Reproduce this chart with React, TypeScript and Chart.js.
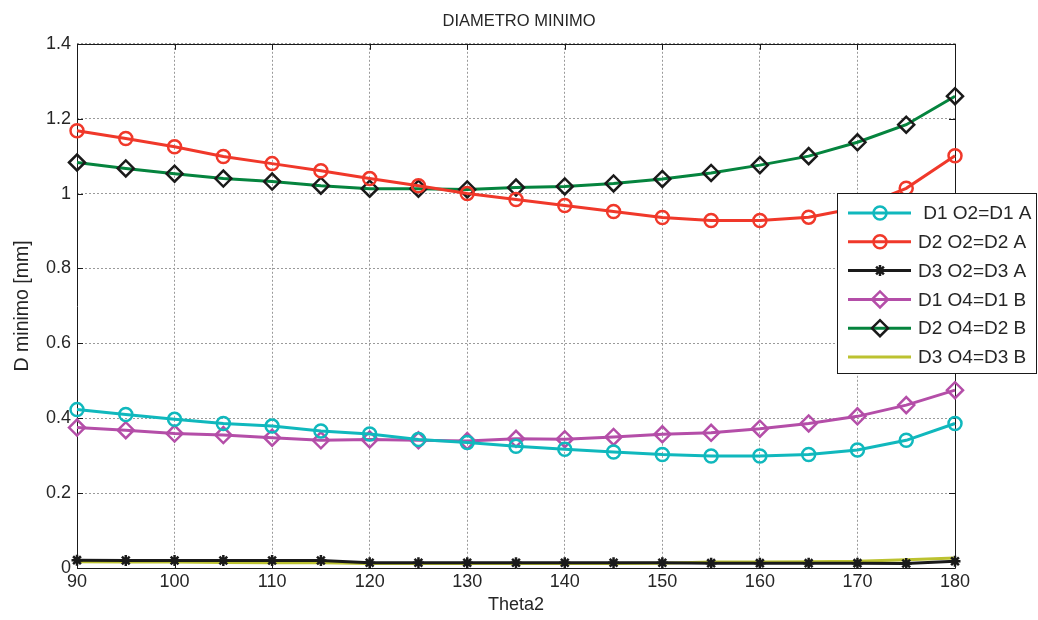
import React, { useEffect, useRef } from "react";
import { Chart, registerables } from "chart.js";
import { drawPoint } from "chart.js/helpers";

Chart.register(...registerables);

const THETA2 = [90, 95, 100, 105, 110, 115, 120, 125, 130, 135, 140, 145, 150, 155, 160, 165, 170, 175, 180];

const D1_A = [0.423, 0.41, 0.397, 0.386, 0.379, 0.366, 0.358, 0.343, 0.335, 0.325, 0.317, 0.31, 0.303, 0.299, 0.299, 0.303, 0.315, 0.341, 0.386];
const D2_A = [1.168, 1.147, 1.125, 1.099, 1.08, 1.061, 1.04, 1.021, 1.0, 0.984, 0.968, 0.952, 0.936, 0.928, 0.928, 0.937, 0.962, 1.014, 1.101];
const D3_A = [0.021, 0.02, 0.02, 0.02, 0.02, 0.02, 0.014, 0.014, 0.014, 0.014, 0.014, 0.014, 0.014, 0.013, 0.013, 0.013, 0.013, 0.012, 0.018];
const D1_B = [0.375, 0.368, 0.359, 0.355, 0.348, 0.341, 0.343, 0.341, 0.339, 0.345, 0.344, 0.35, 0.357, 0.361, 0.372, 0.386, 0.405, 0.435, 0.475];
const D2_B = [1.083, 1.067, 1.053, 1.04, 1.032, 1.021, 1.013, 1.013, 1.011, 1.016, 1.019, 1.027, 1.039, 1.055, 1.076, 1.1, 1.137, 1.184, 1.26];
const D3_B = [0.017, 0.016, 0.016, 0.015, 0.014, 0.014, 0.012, 0.012, 0.012, 0.012, 0.012, 0.012, 0.013, 0.016, 0.016, 0.017, 0.018, 0.022, 0.027];

const LABELS = [" D1 O2=D1 A", "D2 O2=D2 A", "D3 O2=D3 A", "D1 O4=D1 B", "D2 O4=D2 B", "D3 O4=D3 B"];
const X_TICKS = [90, 100, 110, 120, 130, 140, 150, 160, 170, 180];
const Y_TICKS = [0, 0.2, 0.4, 0.6, 0.8, 1, 1.2, 1.4];

const TITLE = "DIAMETRO MINIMO";
const X_TITLE = "Theta2";
const Y_TITLE = "D minimo [mm]";

const FONT = "'Liberation Sans', Arial, Helvetica, sans-serif";
const TEXT = "#262626";

const CYAN = "#10b8bd";
const RED = "#f0382a";
const BLACK = "#1a1a1a";
const MAGENTA = "#b44ea8";
const GREEN = "#05843e";
const OLIVE = "#bcc230";

function pts(vals: number[]) {
  return THETA2.map((x, i) => ({ x, y: vals[i] }));
}

const SERIES = [
  { data: D1_A, color: CYAN, marker: "circle", mColor: CYAN, r: 6.5 },
  { data: D2_A, color: RED, marker: "circle", mColor: RED, r: 6.5 },
  { data: D3_A, color: BLACK, marker: "star", mColor: BLACK, r: 5.5 },
  { data: D1_B, color: MAGENTA, marker: "rectRot", mColor: MAGENTA, r: 8 },
  { data: D2_B, color: GREEN, marker: "rectRot", mColor: BLACK, r: 8 },
  { data: D3_B, color: OLIVE, marker: false as any, mColor: OLIVE, r: 0 },
];

const framePlugin = {
  id: "frame",
  beforeDatasetsDraw(chart: any) {
    const { ctx, chartArea: a, scales } = chart;
    ctx.save();
    ctx.strokeStyle = BLACK;
    ctx.lineWidth = 1;
    ctx.beginPath();
    ctx.rect(Math.round(a.left) + 0.5, Math.round(a.top) + 0.5, Math.round(a.right - a.left), Math.round(a.bottom - a.top));
    ctx.stroke();
    const t = 6;
    ctx.beginPath();
    X_TICKS.forEach((v) => {
      const x = Math.round(scales.x.getPixelForValue(v)) + 0.5;
      ctx.moveTo(x, a.bottom);
      ctx.lineTo(x, a.bottom - t);
      ctx.moveTo(x, a.top);
      ctx.lineTo(x, a.top + t);
    });
    Y_TICKS.forEach((v) => {
      const y = Math.round(scales.y.getPixelForValue(v)) + 0.5;
      ctx.moveTo(a.left, y);
      ctx.lineTo(a.left + t, y);
      ctx.moveTo(a.right, y);
      ctx.lineTo(a.right - t, y);
    });
    ctx.stroke();
    ctx.restore();
  },
};

const legendPlugin = {
  id: "matLegend",
  afterDraw(chart: any) {
    const { ctx } = chart;
    const bx = 837, by = 193, bw = 199, bh = 180;
    ctx.save();
    ctx.fillStyle = "#ffffff";
    ctx.fillRect(bx, by, bw, bh);
    ctx.strokeStyle = BLACK;
    ctx.lineWidth = 1;
    ctx.strokeRect(bx + 0.5, by + 0.5, bw, bh);
    const rowH = 28.8;
    SERIES.forEach((s, i) => {
      const y = by + 20 + i * rowH;
      ctx.strokeStyle = s.color;
      ctx.lineWidth = 3;
      ctx.beginPath();
      ctx.moveTo(848, y);
      ctx.lineTo(911, y);
      ctx.stroke();
      if (s.marker) {
        ctx.strokeStyle = s.mColor;
        ctx.fillStyle = "rgba(0,0,0,0)";
        ctx.lineWidth = 2.5;
        drawPoint(ctx, { pointStyle: s.marker, radius: s.r, rotation: 0, borderWidth: 2.5 } as any, 880, y);
      }
      ctx.fillStyle = TEXT;
      ctx.font = `19px ${FONT}`;
      ctx.textBaseline = "middle";
      ctx.textAlign = "left";
      ctx.fillText(LABELS[i], 918, y + 1);
    });
    ctx.restore();
  },
};

export default function App() {
  const ref = useRef<HTMLCanvasElement | null>(null);

  useEffect(() => {
    document.body.style.margin = "0";
    const canvas = ref.current!;
    const chart = new Chart(canvas, {
      type: "line",
      data: {
        datasets: SERIES.map((s, i) => ({
          label: LABELS[i],
          data: pts(s.data),
          borderColor: s.color,
          backgroundColor: s.color,
          borderWidth: 3,
          pointStyle: s.marker,
          pointRadius: s.marker ? s.r : 0,
          pointBorderColor: s.mColor,
          pointBackgroundColor: "rgba(0,0,0,0)",
          pointBorderWidth: 2.5,
          tension: 0,
          clip: false as any,
          yAxisID: "y",
        })),
      },
      options: {
        animation: false,
        responsive: false,
        devicePixelRatio: 1,
        layout: { padding: 0 },
        plugins: {
          legend: { display: false },
          tooltip: { enabled: false },
          title: {
            display: true,
            text: TITLE,
            color: TEXT,
            font: { family: FONT, size: 16.5, weight: "normal" },
            padding: { top: 12, bottom: 12 },
          },
        },
        scales: {
          x: {
            type: "linear",
            min: 90,
            max: 180,
            afterBuildTicks: (s: any) => {
              s.ticks = X_TICKS.map((v) => ({ value: v }));
            },
            afterFit: (s: any) => {
              s.height = 52;
            },
            ticks: {
              color: TEXT,
              font: { family: FONT, size: 18 },
              padding: 3,
              maxRotation: 0,
              autoSkip: false,
              callback: (v: any) => String(v),
            },
            grid: { color: "#9a9a9a", lineWidth: 1, drawTicks: false },
            border: { display: false, dash: [2, 2] },
            title: {
              display: true,
              text: X_TITLE,
              color: TEXT,
              font: { family: FONT, size: 18 },
              padding: { top: 4, bottom: 4 },
            },
          },
          y: {
            type: "linear",
            position: "left",
            min: 0,
            max: 1.4,
            afterBuildTicks: (s: any) => {
              s.ticks = Y_TICKS.map((v) => ({ value: v }));
            },
            afterFit: (s: any) => {
              s.width = 77;
            },
            ticks: {
              color: TEXT,
              font: { family: FONT, size: 18 },
              padding: 6,
              autoSkip: false,
              callback: (v: any) => String(Math.round(Number(v) * 10) / 10),
            },
            grid: { color: "#9a9a9a", lineWidth: 1, drawTicks: false },
            border: { display: false, dash: [2, 2] },
            title: {
              display: true,
              text: Y_TITLE,
              color: TEXT,
              font: { family: FONT, size: 19.5 },
              padding: { top: 11, bottom: 4 },
            },
          },
          yRight: {
            type: "linear",
            position: "right",
            min: 0,
            max: 1.4,
            display: true,
            afterFit: (s: any) => {
              s.width = 83;
            },
            ticks: { display: false },
            grid: { display: false, drawTicks: false },
            border: { display: false },
          },
        },
      } as any,
      plugins: [framePlugin, legendPlugin],
    });
    return () => chart.destroy();
  }, []);

  return (
    <div style={{ position: "absolute", left: 0, top: 0, width: 1038, height: 620, background: "#fff" }}>
      <canvas ref={ref} width={1038} height={620} style={{ width: 1038, height: 620 }} />
    </div>
  );
}
